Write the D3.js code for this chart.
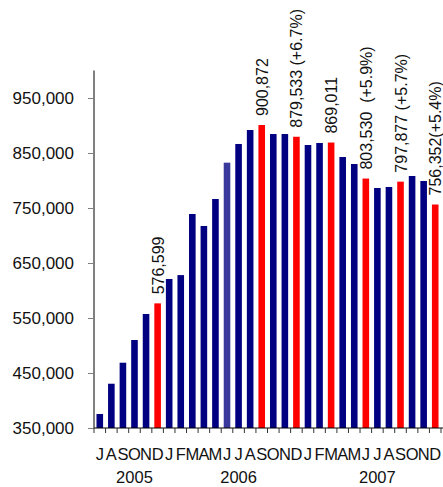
<!DOCTYPE html>
<html>
<head>
<meta charset="utf-8">
<script src="https://cdn.jsdelivr.net/npm/d3@7"></script>
<style>
  html, body { margin: 0; padding: 0; background: #fff; }
  svg { display: block; font-family: "Liberation Sans", Arial, sans-serif; }
</style>
</head>
<body>
<script>
// Monthly totals, July 2005 – December 2007
const months = ["J","A","S","O","N","D",
  "J","F","M","A","M","J","J","A","S","O","N","D",
  "J","F","M","A","M","J","J","A","S","O","N","D"];
const values = [375500, 430500, 468700, 510000, 557300, 576599,
  620900, 628000, 739100, 717300, 766400, 832400, 866400, 891800, 900872, 884500, 884500, 879533,
  864500, 868200, 869011, 842700, 830000, 803530, 786400, 788200, 797877, 808200, 799100, 756352];
// bar groups: 0 = regular month, 1 = reported month, 2 = provisional month
const barGroup = [0,0,0,0,0,1,
  0,0,0,0,0,2,0,0,1,0,0,1,
  0,0,1,0,0,1,0,0,1,0,0,1];
const years = ["2005", "2006", "2007"];
const yearMonthIndex = [3, 12, 24];
const labelIndex = [5, 14, 17, 20, 23, 26, 29];
const labelTexts = ["576,599", "900,872", "879,533 (+6.7%)", "869,011",
  "803,530  (+5.9%)", "797,877 (+5.7%)", "756,352(+5.4%)"];
const yTicks = [350000, 450000, 550000, 650000, 750000, 850000, 950000];

const W = 443, H = 487;
const plotLeft = 94, plotRight = 441, plotTop = 70.5, plotBottom = 428;
const groupColor = ["#000080", "#ff0000", "#3a3a9c"];

const svg = d3.select("body").append("svg").attr("width", W).attr("height", H);

const x = d3.scaleBand().domain(d3.range(values.length)).range([plotLeft, plotRight])
  .paddingInner(0.43).paddingOuter(0.215);
const xb = d3.scaleBand().domain(d3.range(values.length)).range([plotLeft, plotRight]);
const y = d3.scaleLinear().domain([350000, 1000000]).range([plotBottom, plotTop]);

// bars
svg.append("g").selectAll("rect").data(values).join("rect")
  .attr("x", (d, i) => x(i))
  .attr("width", x.bandwidth())
  .attr("y", d => y(d))
  .attr("height", d => y(350000) - y(d))
  .attr("fill", (d, i) => groupColor[barGroup[i]]);

// y axis
const yAxis = d3.axisLeft(y).tickValues(yTicks).tickSize(6).tickPadding(14)
  .tickFormat(d3.format(","));
const gy = svg.append("g").attr("transform", `translate(${plotLeft},0)`).call(yAxis);
gy.select(".domain").attr("stroke", "#000").attr("d", `M0,${plotTop}V${plotBottom}`);
gy.selectAll(".tick line").attr("stroke", "#808080");
gy.selectAll(".tick text").attr("font-size", 17).attr("fill", "#111")
  .attr("font-family", "Liberation Sans, Arial, sans-serif");

// x axis line and tick marks at month boundaries
const gx = svg.append("g");
gx.append("line").attr("x1", plotLeft).attr("x2", plotRight + 2)
  .attr("y1", plotBottom).attr("y2", plotBottom).attr("stroke", "#000");
gx.selectAll("line.tk").data(d3.range(values.length + 1)).join("line").attr("class", "tk")
  .attr("x1", i => plotLeft + i * xb.step()).attr("x2", i => plotLeft + i * xb.step())
  .attr("y1", plotBottom).attr("y2", plotBottom + 5).attr("stroke", "#333");

// month initials
gx.selectAll("text.m").data(months).join("text").attr("class", "m")
  .attr("x", (d, i) => xb(i) + xb.bandwidth() / 2)
  .attr("y", 459.5)
  .attr("text-anchor", "middle").attr("font-size", 16.5).attr("fill", "#111")
  .text(d => d);

// year labels
gx.selectAll("text.yr").data(years).join("text").attr("class", "yr")
  .attr("x", (d, i) => xb(yearMonthIndex[i]) + xb.bandwidth() / 2)
  .attr("y", 482.5)
  .attr("text-anchor", "middle").attr("font-size", 16.5).attr("fill", "#111")
  .text(d => d);

// vertical value labels above selected bars
svg.append("g").selectAll("text").data(labelIndex).join("text")
  .attr("transform", i => `translate(${x(i) + x.bandwidth() / 2 + 6},${y(values[i]) - 9}) rotate(-90)`)
  .attr("font-size", 16).attr("fill", "#111")
  .style("white-space", "pre")
  .text((i, k) => labelTexts[k]);
</script>
</body>
</html>
